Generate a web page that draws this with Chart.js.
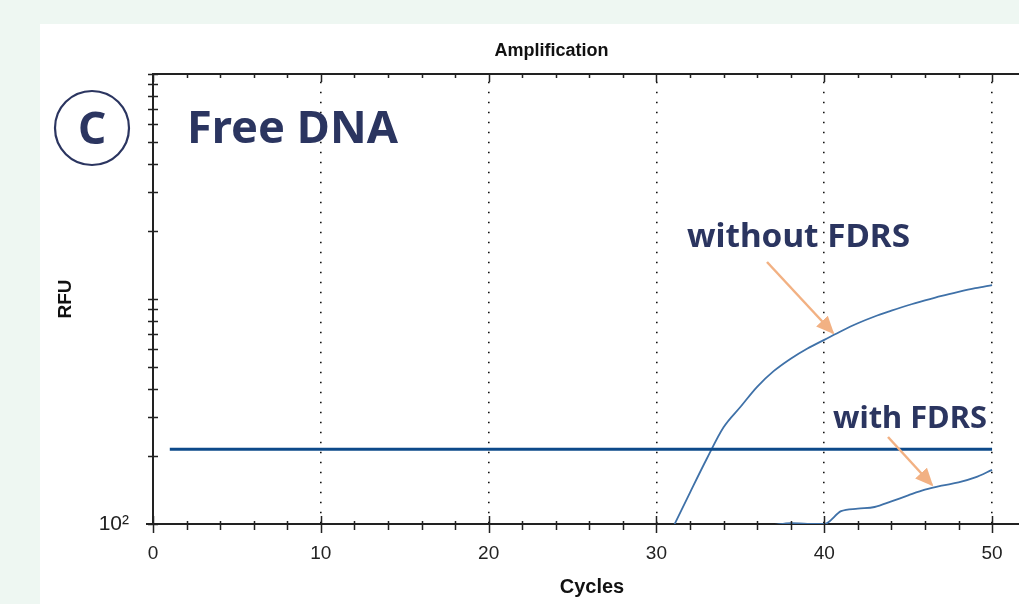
<!DOCTYPE html>
<html>
<head>
<meta charset="utf-8">
<script src="https://cdn.jsdelivr.net/npm/chart.js@4"></script>
<style>
	html, body { margin: 0; padding: 0; overflow: hidden; }
	body { width: 1019px; height: 604px; background: #eef7f2; position: relative; }
	#panel { position: absolute; left: 40px; top: 24px; width: 979px; height: 580px; background: #ffffff; }
	#wrap { position: absolute; left: 0; top: 0; width: 1031px; height: 604px; }
	#notes { position: absolute; left: 0; top: 0; pointer-events: none; }
	#notes text { font-family: "Noto Sans", sans-serif; font-weight: 700; fill: #2b3560; }
</style>
</head>
<body>
<div id="panel"></div>
<div id="wrap"><canvas id="chart-amplification"></canvas></div>

<svg id="notes" width="1019" height="604">
	<defs>
		<marker id="head" viewBox="0 0 10 10" refX="9" refY="5" markerUnits="userSpaceOnUse"
			markerWidth="18" markerHeight="16" orient="auto" preserveAspectRatio="none">
			<path d="M0,0 L10,5 L0,10 z" fill="#f2b183"></path>
		</marker>
	</defs>
	<circle cx="92" cy="128" r="37" fill="none" stroke="#2b3560" stroke-width="2.2"></circle>
	<text x="92" y="144" text-anchor="middle" font-size="44">C</text>
	<text x="187" y="143" font-size="45.5" textLength="211" lengthAdjust="spacingAndGlyphs">Free DNA</text>
	<text x="687" y="247" font-size="32" textLength="223" lengthAdjust="spacingAndGlyphs">without FDRS</text>
	<text x="833" y="428" font-size="30" textLength="154" lengthAdjust="spacingAndGlyphs">with FDRS</text>
	<line x1="767" y1="262" x2="833" y2="333" stroke="#f2b183" stroke-width="2.5" marker-end="url(#head)"></line>
	<line x1="888" y1="437" x2="932" y2="485" stroke="#f2b183" stroke-width="2.5" marker-end="url(#head)"></line>
</svg>

<script>
// Data
// ================================================================================
let no_fdrs_cycles = [30, 31, 32, 33, 34, 35, 36, 37, 38, 39, 40,
	41, 42, 43, 44, 45, 46, 47, 48, 49, 50];
let no_fdrs_rfu = [68, 97, 138, 195, 269, 331, 407, 479, 543, 603, 658,
	719, 780, 836, 887, 938, 986, 1033, 1076, 1117, 1153];

let fdrs_cycles = [36, 37, 38, 39, 40, 41, 42, 43, 44, 45, 46, 47, 48, 49, 50];
let fdrs_rfu = [97, 99, 101, 100, 100, 114, 117, 119, 126, 134, 142, 148, 153, 161, 174];

// threshold line runs from cycle 1 to 50
let threshold_cycles = [1, 50];
let threshold_rfu = 215;

let x_tick_values = [0, 2, 4, 6, 8, 10, 12, 14, 16, 18, 20, 22, 24, 26, 28,
	30, 32, 34, 36, 38, 40, 42, 44, 46, 48, 50];
let y_tick_values = [100, 200, 300, 400, 500, 600, 700, 800, 900,
	1000, 2000, 3000, 4000, 5000, 6000, 7000, 8000, 9000, 10000];

let to_points = (xs, ys) => xs.map((x, i) => ({x: x, y: ys[i]}));

// Frame: top line, crossing ticks
// ================================================================================
let frame_ticks = {
	id: 'frameTicks',
	afterDraw(chart) {
		let ctx = chart.ctx;
		let a = chart.chartArea;
		let x = chart.scales.x, y = chart.scales.y;
		ctx.save();
		ctx.strokeStyle = '#222';
		ctx.lineWidth = 2;
		ctx.beginPath();
		ctx.moveTo(a.left - 1, a.top);
		ctx.lineTo(a.right, a.top);
		ctx.moveTo(a.left - 7, a.bottom);
		ctx.lineTo(a.left, a.bottom);
		ctx.stroke();

		ctx.lineWidth = 1.5;
		ctx.beginPath();
		x.ticks.forEach(t => {
			let px = Math.round(x.getPixelForValue(t.value)) + 0.5;
			let major = t.value % 10 === 0;
			ctx.moveTo(px, a.bottom - (major ? 8 : 3));
			ctx.lineTo(px, a.bottom + (major ? 9 : 6));
			ctx.moveTo(px, a.top);
			ctx.lineTo(px, a.top + (major ? 8 : 4));
		});
		y.ticks.forEach(t => {
			let py = Math.round(y.getPixelForValue(t.value)) + 0.5;
			ctx.moveTo(a.left - 5, py);
			ctx.lineTo(a.left + 5, py);
		});
		ctx.stroke();
		ctx.restore();
	}
};

// Chart
// ================================================================================
Chart.defaults.font.family = '"Liberation Sans", Arial, sans-serif';
Chart.defaults.color = '#222';

let amplification_chart = new Chart(document.getElementById('chart-amplification'), {
	type: 'line',
	data: {
		datasets: [{
			label: 'Threshold',
			data: to_points(threshold_cycles, threshold_cycles.map(() => threshold_rfu)),
			borderColor: '#0d4a8a',
			borderWidth: 3,
			pointRadius: 0
		},
		{
			label: 'without FDRS',
			data: to_points(no_fdrs_cycles, no_fdrs_rfu),
			borderColor: '#3f71a8',
			borderWidth: 1.8,
			pointRadius: 0,
			cubicInterpolationMode: 'monotone'
		},
		{
			label: 'with FDRS',
			data: to_points(fdrs_cycles, fdrs_rfu),
			borderColor: '#3f71a8',
			borderWidth: 1.8,
			pointRadius: 0,
			cubicInterpolationMode: 'monotone'
		}]
	},
	options: {
		responsive: true,
		maintainAspectRatio: false,
		animation: false,
		layout: { padding: { left: 72, top: 0, right: 0, bottom: 0 } },
		plugins: {
			legend: { display: false },
			tooltip: { enabled: false },
			title: {
				display: true,
				text: 'Amplification',
				color: '#111',
				font: { size: 18, weight: 'bold' },
				padding: { top: 40.2, bottom: 12.2 }
			}
		},
		scales: {
			x: {
				type: 'linear',
				min: 0,
				max: 52.32,
				afterBuildTicks: (scale) => {
					scale.ticks = x_tick_values.map(v => ({value: v}));
				},
				afterFit: (scale) => { scale.height = 80; },
				ticks: {
					autoSkip: false,
					maxRotation: 0,
					padding: 18.6,
					font: { size: 19 },
					color: '#222',
					callback: (v) => v % 10 === 0 ? String(v) : ''
				},
				grid: {
					drawTicks: false,
					lineWidth: 1.6,
					color: (c) => (c.tick && c.tick.value > 0 && c.tick.value % 10 === 0) ? '#111' : 'rgba(0,0,0,0)'
				},
				border: { display: true, color: '#222', width: 2, dash: [1.6, 8.4], dashOffset: 2.3 },
				title: {
					display: true,
					text: 'Cycles',
					color: '#111',
					font: { size: 20, weight: 'bold' },
					padding: { top: 0, bottom: 4.5 }
				}
			},
			y: {
				type: 'logarithmic',
				min: 100,
				max: 10000,
				afterBuildTicks: (scale) => {
					scale.ticks = y_tick_values.map(v => ({value: v}));
				},
				afterFit: (scale) => { scale.width = 81; },
				ticks: {
					autoSkip: false,
					padding: 24,
					font: { size: 21 },
					color: '#222',
					callback: (v) => v === 100 ? '10²' : ''
				},
				grid: { display: false, drawTicks: false },
				border: { display: true, color: '#222', width: 2 },
				title: {
					display: true,
					text: 'RFU',
					color: '#111',
					font: { size: 19, weight: 'bold' },
					padding: { top: -17.4, bottom: 0 }
				}
			}
		}
	},
	plugins: [frame_ticks]
});
</script>
</body>
</html>
